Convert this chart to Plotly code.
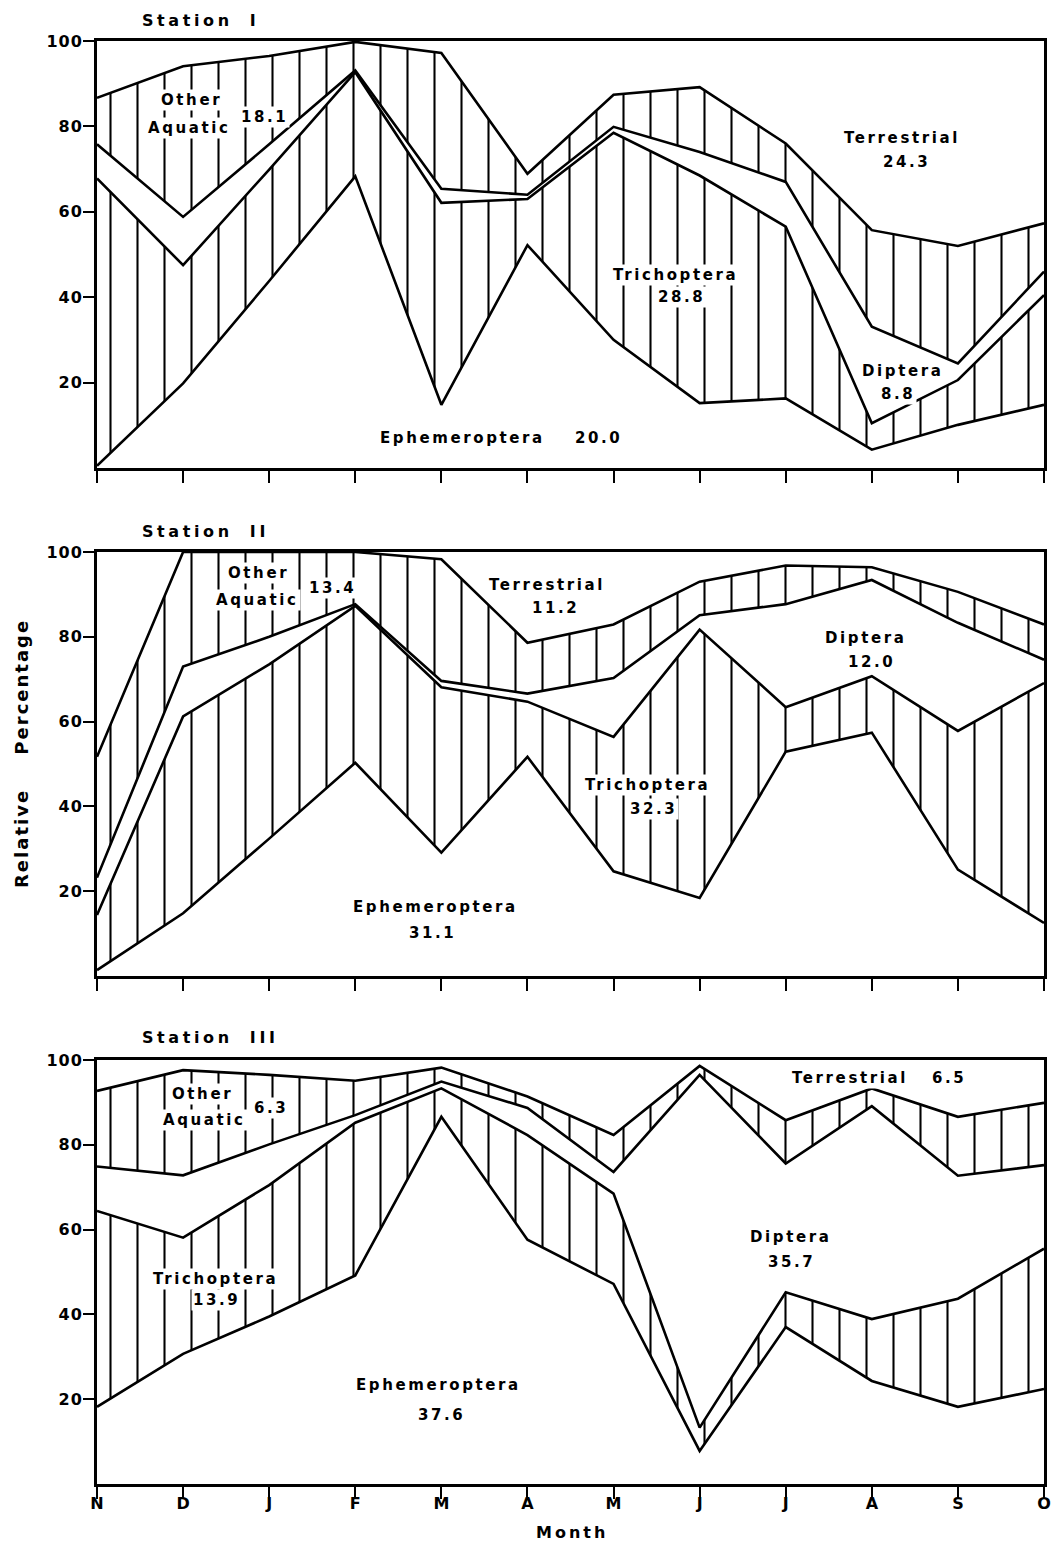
import plotly.graph_objects as go

# ---------------- data ----------------
months = ["N", "D", "J", "F", "M", "A", "M", "J", "J", "A", "S", "O"]
month_pos = list(range(len(months)))
y_ticks = [20, 40, 60, 80, 100]
y_tick_labels = ["20", "40", "60", "80", "100"]

# cumulative upper boundary (%) of each group, stacked bottom -> top
# Station I
s1_ephemeroptera = [0.5, 19.8, 43.8, 68.3, 14.8, 52.2, 30.0, 15.2, 16.3, 4.3, 10.1, 14.8]
s1_trichoptera = [67.8, 47.5, 69.9, 92.7, 62.1, 63.0, 78.5, 68.5, 56.5, 10.5, 20.6, 40.5]
s1_diptera = [75.8, 58.8, 75.8, 93.1, 65.4, 64.0, 79.9, 74.0, 67.0, 33.1, 24.5, 46.0]
s1_other_aquatic = [86.7, 94.1, 96.5, 99.8, 97.2, 68.9, 87.4, 89.2, 76.0, 55.7, 52.0, 57.3]
# Station II
s2_ephemeroptera = [1.4, 14.8, 32.4, 50.3, 29.1, 51.7, 24.7, 18.4, 52.9, 57.4, 25.1, 12.5]
s2_trichoptera = [14.4, 61.2, 73.5, 87.3, 68.1, 64.7, 56.4, 81.7, 63.4, 70.7, 57.8, 69.1]
s2_diptera = [23.2, 73.0, 80.0, 87.7, 69.6, 66.6, 70.3, 85.1, 87.7, 93.4, 83.3, 74.6]
s2_other_aquatic = [51.7, 100.0, 100.0, 100.0, 98.3, 78.6, 82.9, 93.0, 96.8, 96.4, 90.6, 82.9]
# Station III
s3_ephemeroptera = [18.2, 30.7, 39.5, 49.2, 86.6, 57.6, 47.2, 7.8, 37.0, 24.3, 18.2, 22.4]
s3_trichoptera = [64.4, 58.1, 70.5, 85.2, 93.3, 82.3, 68.5, 13.3, 45.2, 38.9, 43.7, 55.5]
s3_diptera = [74.9, 72.8, 80.1, 87.0, 94.9, 88.7, 73.6, 96.5, 75.6, 89.1, 72.7, 75.2]
s3_other_aquatic = [92.7, 97.6, 96.5, 95.1, 98.2, 91.4, 82.3, 98.6, 85.8, 93.3, 86.6, 89.9]

stations = ["Station I", "Station II", "Station III"]
station_series = [
    [s1_ephemeroptera, s1_trichoptera, s1_diptera, s1_other_aquatic],
    [s2_ephemeroptera, s2_trichoptera, s2_diptera, s2_other_aquatic],
    [s3_ephemeroptera, s3_trichoptera, s3_diptera, s3_other_aquatic],
]
group_names = ["Ephemeroptera", "Trichoptera", "Diptera", "Other Aquatic"]

# in-plot labels: (station index, text, x in months, y in %)
labels = [
    (0, "Other", 1.10, 86.2), (0, "Aquatic", 1.08, 79.6), (0, "18.1", 1.94, 82.2),
    (0, "Terrestrial", 9.35, 77.3), (0, "24.3", 9.40, 71.7),
    (0, "Trichoptera", 6.72, 45.2), (0, "28.8", 6.79, 40.0),
    (0, "Diptera", 9.36, 22.7), (0, "8.8", 9.30, 17.3),
    (0, "Ephemeroptera", 4.24, 7.0), (0, "20.0", 5.82, 7.0),
    (1, "Other", 1.88, 95.0), (1, "Aquatic", 1.87, 88.7), (1, "13.4", 2.74, 91.5),
    (1, "Terrestrial", 5.23, 92.2), (1, "11.2", 5.32, 86.8),
    (1, "Diptera", 8.93, 79.7), (1, "12.0", 9.00, 74.0),
    (1, "Trichoptera", 6.40, 45.0), (1, "32.3", 6.46, 39.4),
    (1, "Ephemeroptera", 3.93, 16.3), (1, "31.1", 3.90, 10.1),
    (2, "Other", 1.23, 92.0), (2, "Aquatic", 1.25, 85.8), (2, "6.3", 2.02, 88.7),
    (2, "Trichoptera", 1.38, 48.3), (2, "13.9", 1.39, 43.4),
    (2, "Ephemeroptera", 3.97, 23.3), (2, "37.6", 4.00, 16.3),
    (2, "Terrestrial", 8.75, 95.8), (2, "6.5", 9.90, 95.8),
    (2, "Diptera", 8.05, 58.3), (2, "35.7", 8.07, 52.4),
]

# ---------------- layout geometry ----------------
W, H = 1052, 1545
ML, MR, MT, MB = 6, 8, 10, 0
PW, PH = W - ML - MR, H - MT - MB


def px_x(px):
    return (px - ML) / PW


def px_y(py):
    return 1 - (py - MT) / PH


x_dom = [px_x(97), min(1.0, px_x(1044))]
panel_px = [(41, 468), (552, 976), (1060, 1484)]
y_doms = [[px_y(b), px_y(t)] for t, b in panel_px]

FONT = "DejaVu Sans"
hatch = dict(shape="|", size=27, solidity=2.0 / 26, fgcolor="black",
             fgopacity=1, bgcolor="white")

fig = go.Figure()
for i, series in enumerate(station_series):
    ax = "" if i == 0 else str(i + 1)
    for k, vals in enumerate(series):
        tr = dict(
            x=month_pos, y=vals, mode="lines", name=group_names[k],
            line=dict(color="black", width=2.6),
            fill="tozeroy" if k == 0 else "tonexty",
            fillcolor="white",
            xaxis="x" + ax, yaxis="y" + ax, showlegend=False, hoverinfo="skip",
        )
        if k in (1, 3):
            tr["fillpattern"] = hatch
        fig.add_trace(go.Scatter(**tr))

axis_common = dict(
    showline=True, linewidth=3, linecolor="black", mirror=True,
    ticks="outside", tickwidth=2, tickcolor="black",
    showgrid=False, zeroline=False, fixedrange=True, automargin=False,
    tickfont=dict(family=FONT, size=16, color="black", weight="bold"),
)

layout = dict(
    width=W, height=H, margin=dict(l=ML, r=MR, t=MT, b=MB, autoexpand=False),
    paper_bgcolor="white", plot_bgcolor="white", showlegend=False,
)
for i in range(3):
    ax = "" if i == 0 else str(i + 1)
    layout["xaxis" + ax] = dict(
        axis_common, domain=x_dom, range=[0, 11], anchor="y" + ax,
        tickvals=month_pos, ticktext=months, ticklen=12,
        showticklabels=(i == 2), ticklabelstandoff=-9,
    )
    layout["yaxis" + ax] = dict(
        axis_common, domain=y_doms[i], range=[0, 100], anchor="x" + ax,
        tickvals=y_ticks,
        ticktext=['<span style="letter-spacing:1px">' + t + "</span>" for t in y_tick_labels],
        ticklen=11, ticklabelstandoff=-3,
    )

annotations = []
for si, txt, xv, yv in labels:
    ax = "" if si == 0 else str(si + 1)
    annotations.append(dict(
        x=xv, y=yv, xref="x" + ax, yref="y" + ax, showarrow=False,
        text='<span style="letter-spacing:2.6px">' + txt + "</span>",
        font=dict(family=FONT, size=15, color="black", weight="bold"),
        bgcolor="white", borderpad=1, xanchor="center", yanchor="middle",
    ))

title_px = [20, 531, 1037]
for i, name in enumerate(stations):
    annotations.append(dict(
        x=px_x(140), y=px_y(title_px[i]), xref="paper", yref="paper",
        showarrow=False, xanchor="left", yanchor="middle",
        text='<span style="letter-spacing:3.6px;word-spacing:8px">' + name + "</span>",
        font=dict(family=FONT, size=16, color="black", weight="bold"),
    ))

annotations.append(dict(
    x=px_x(22), y=px_y(754), xref="paper", yref="paper", showarrow=False,
    textangle=-90, xanchor="center", yanchor="middle",
    text='<span style="letter-spacing:2px;word-spacing:26px">Relative Percentage</span>',
    font=dict(family=FONT, size=18, color="black", weight="bold"),
))
annotations.append(dict(
    x=px_x(572), y=px_y(1532), xref="paper", yref="paper", showarrow=False,
    xanchor="center", yanchor="middle",
    text='<span style="letter-spacing:3px">Month</span>',
    font=dict(family=FONT, size=16, color="black", weight="bold"),
))
layout["annotations"] = annotations

fig.update_layout(**layout)
fig.write_html("out.html")
